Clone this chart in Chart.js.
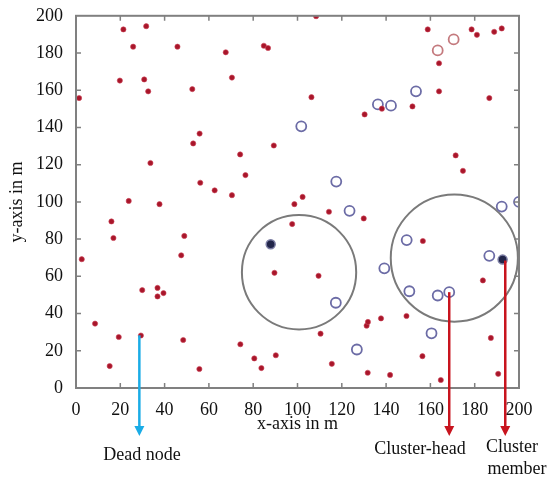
<!DOCTYPE html>
<html>
<head>
<meta charset="utf-8">
<script src="https://cdn.jsdelivr.net/npm/chart.js@4.4.0/dist/chart.umd.min.js"></script>
<style>
  body { margin: 0; background: #fff; }
  canvas { display: block; }
</style>
</head>
<body>
<canvas id="grafico" width="547" height="481"></canvas>
<script>
// nós normais (pontos vermelhos)
const nodeX = [21.4, 31.7, 25.8, 45.8, 67.6, 19.8, 30.8, 32.6, 52.5, 1.4, 55.8, 70.4, 84.8, 86.7, 108.4, 106.3,
  130.3, 138.1, 151.9, 158.8, 163.9, 163.9, 178.6, 181, 188.8, 192.2, 186.6,
  52.9, 33.6, 56.1, 62.6, 70.4, 23.8, 37.7, 16, 16.9, 48.9, 47.5, 2.6,
  89.3, 74.1, 76.5, 102.3, 98.6, 114.2, 129.9, 97.6, 171.4, 174.7, 156.6,
  29.9, 36.8, 36.8, 39.5, 8.6, 19.3, 29.3, 48.4, 15.2, 55.7,
  89.6, 109.5, 110.4, 74.2, 80.5, 90.2, 83.7, 115.5, 131.2, 131.8, 137.7, 149.2, 131.7, 141.8, 156.4, 164.7, 183.7, 187.3, 190.6];
const nodeY = [192.7, 194.4, 183.4, 183.4, 180.4, 165.2, 165.8, 159.4, 160.6, 155.8, 136.7, 166.8, 183.9, 182.7, 199.8, 156.3,
  147, 150.1, 151.3, 192.7, 174.5, 159.4, 192.7, 189.8, 191.4, 193.2, 155.8,
  131.4, 120.9, 110.3, 106.2, 103.6, 100.5, 98.8, 89.5, 80.6, 81.7, 71.3, 69.2,
  130.3, 125.5, 114.4, 102.7, 98.8, 94.7, 91.1, 88.1, 125, 116.7, 79,
  52.6, 53.8, 49.2, 51, 34.6, 27.4, 28.2, 25.8, 11.8, 10.2,
  61.9, 60.3, 29.2, 23.5, 15.9, 17.6, 10.7, 13, 33.5, 35.5, 37.4, 38.7, 8.2, 7, 17.1, 4.3, 57.8, 26.9, 7.6];

// cluster-heads (círculos azuis)
const headX = [101.7, 136.3, 142.2, 153.5, 117.5, 123.5, 192.2, 149.3, 186.6, 200, 117.3, 126.8, 160.5, 139.2, 150.5, 163.3, 168.5];
const headY = [140.6, 152.4, 151.7, 159.4, 110.9, 95.2, 97.5, 79.5, 71, 100, 45.8, 20.7, 29.4, 64.3, 52, 49.7, 51.5];

// círculos vermelhos
const redRingX = [163.3, 170.5];
const redRingY = [181.4, 187.3];

// membros (pontos escuros)
const memberX = [87.9, 192.6];
const memberY = [77.2, 69];

// alcance dos clusters
const clusterX = [100.7, 170.8];
const clusterY = [62.2, 69.8];
const clusterR = [25.8, 28.7];

// setas e rótulos
const arrowLabels = [["Dead node"], ["Cluster-head"], ["Cluster", "member"]];
const arrowX = [28.6, 168.5, 193.8];
const arrowY = [28.3, 51.5, 68.5];

const ticks = [0, 20, 40, 60, 80, 100, 120, 140, 160, 180, 200];

const pts = (xs, ys) => xs.map((x, i) => ({ x: x, y: ys[i] }));
const FONT = "'Liberation Serif', 'Times New Roman', serif";

const extras = {
  id: "extras",
  beforeDatasetsDraw(chart) {
    const { ctx, scales: { x, y } } = chart;
    ctx.save();
    ctx.strokeStyle = "#7a7a7a";
    ctx.lineWidth = 2;
    clusterX.forEach((cx, i) => {
      const px = x.getPixelForValue(cx);
      const py = y.getPixelForValue(clusterY[i]);
      const r = x.getPixelForValue(cx + clusterR[i]) - px;
      ctx.beginPath();
      ctx.arc(px, py, r, 0, Math.PI * 2);
      ctx.stroke();
    });
    ctx.restore();
  },
  afterDraw(chart) {
    const { ctx, chartArea: a, scales: { x, y } } = chart;
    ctx.save();
    // moldura e ticks para dentro
    ctx.strokeStyle = "#808080";
    ctx.lineWidth = 2;
    ctx.strokeRect(a.left, a.top, a.right - a.left, a.bottom - a.top);
    ctx.lineWidth = 1.5;
    ticks.slice(1, -1).forEach(t => {
      const px = x.getPixelForValue(t);
      const py = y.getPixelForValue(t);
      ctx.beginPath();
      ctx.moveTo(px, a.bottom); ctx.lineTo(px, a.bottom - 5);
      ctx.moveTo(px, a.top); ctx.lineTo(px, a.top + 5);
      ctx.moveTo(a.left, py); ctx.lineTo(a.left + 5, py);
      ctx.moveTo(a.right, py); ctx.lineTo(a.right - 5, py);
      ctx.stroke();
    });

    // setas
    const cores = ["#1aace6", "#c8141e", "#c8141e"];
    const tip = 436;
    arrowX.forEach((ax, i) => {
      const px = x.getPixelForValue(ax);
      const py = y.getPixelForValue(arrowY[i]);
      ctx.strokeStyle = cores[i];
      ctx.fillStyle = cores[i];
      ctx.lineWidth = 2.5;
      ctx.beginPath();
      ctx.moveTo(px, py);
      ctx.lineTo(px, tip - 8);
      ctx.stroke();
      ctx.beginPath();
      ctx.moveTo(px - 5, tip - 10);
      ctx.lineTo(px + 5, tip - 10);
      ctx.lineTo(px, tip);
      ctx.closePath();
      ctx.fill();
    });

    ctx.fillStyle = "#111";
    ctx.font = "18px " + FONT;
    ctx.textAlign = "center";
    ctx.textBaseline = "middle";
    ctx.fillText(arrowLabels[0][0], 142, 455);
    ctx.fillText(arrowLabels[1][0], 420, 449);
    ctx.fillText(arrowLabels[2][0], 512, 447);
    ctx.fillText(arrowLabels[2][1], 517, 469);
    ctx.restore();
  }
};

new Chart(document.getElementById("grafico").getContext("2d"), {
  type: "scatter",
  data: {
    datasets: [
      {
        data: pts(nodeX, nodeY),
        pointRadius: 2.6,
        backgroundColor: "#a8162a",
        borderColor: "rgba(205,70,90,0.6)",
        borderWidth: 1
      },
      {
        data: pts(headX, headY),
        pointRadius: 5,
        backgroundColor: "rgba(0,0,0,0)",
        borderColor: "#6c6ca6",
        borderWidth: 1.8
      },
      {
        data: pts(redRingX, redRingY),
        pointRadius: 5,
        backgroundColor: "rgba(0,0,0,0)",
        borderColor: "#c47a7e",
        borderWidth: 1.8
      },
      {
        data: pts(memberX, memberY),
        pointRadius: 4.5,
        backgroundColor: "#22264a",
        borderColor: "#7c7ea4",
        borderWidth: 1.5
      }
    ]
  },
  options: {
    responsive: false,
    animation: false,
    events: [],
    layout: { padding: { top: 14, right: 28, left: 0, bottom: 0 } },
    plugins: { legend: { display: false }, tooltip: { enabled: false } },
    scales: {
      x: {
        type: "linear",
        min: 0,
        max: 200,
        afterFit: s => { s.height = 93; },
        afterBuildTicks: s => { s.ticks = ticks.map(v => ({ value: v })); },
        grid: { display: false },
        border: { display: false },
        ticks: { padding: 3, color: "#111", font: { family: FONT, size: 18 }, maxRotation: 0 },
        title: { display: true, text: "x-axis in m", color: "#111", font: { family: FONT, size: 18 }, padding: { top: 0, bottom: 46 } }
      },
      y: {
        type: "linear",
        min: 0,
        max: 200,
        afterFit: s => { s.width = 76; },
        afterBuildTicks: s => { s.ticks = ticks.map(v => ({ value: v })); },
        grid: { display: false },
        border: { display: false },
        ticks: { padding: 5, color: "#111", font: { family: FONT, size: 18 } },
        title: { display: true, text: "y-axis in m", color: "#111", font: { family: FONT, size: 18 }, padding: { top: 6, bottom: 0 } }
      }
    }
  },
  plugins: [extras]
});
</script>
</body>
</html>
